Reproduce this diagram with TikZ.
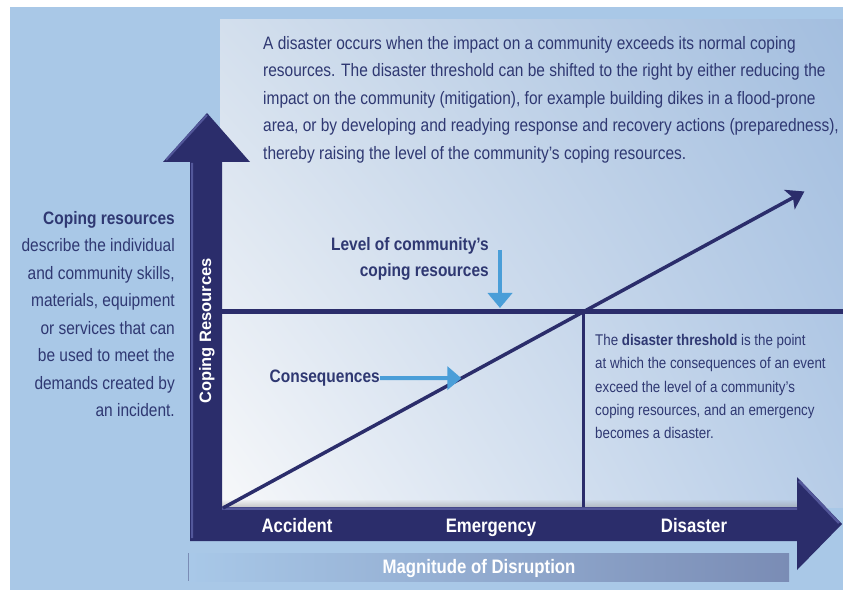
\documentclass[tikz,border=0pt]{standalone}
\usepackage{fontspec}
\setmainfont{Liberation Sans}[FakeStretch=0.86]
\newfontfamily\widesans{Liberation Sans}
\usetikzlibrary{arrows.meta, positioning, calc, fadings, shadings}

\definecolor{drNavy}{HTML}{2B2D6B}
\definecolor{drNavyLite}{HTML}{53579A}
\definecolor{drText}{HTML}{2F3872}
\definecolor{drSky}{HTML}{A9C8E7}
\definecolor{drBlue}{HTML}{4A9ED8}
\definecolor{drPanelUL}{HTML}{D3DFED}
\definecolor{drPanelUR}{HTML}{A3BEDF}
\definecolor{drPanelLL}{HTML}{F7F8FA}
\definecolor{drPanelLR}{HTML}{B6CCE7}
\definecolor{drScaleL}{HTML}{A8C8E8}
\definecolor{drScaleR}{HTML}{7A8CB5}

\tikzset{
  bodytext/.style={font=\fontsize{18}{27.5}\selectfont, text=drText, inner sep=0pt},
  notetext/.style={font=\fontsize{15.5}{23.3}\selectfont, text=drText, inner sep=0pt, align=left},
  tagtext/.style={font=\fontsize{18}{26}\selectfont\bfseries, text=drText, inner sep=0pt},
  barlabel/.style={font=\fontsize{19.5}{20}\selectfont\bfseries, text=white, inner sep=0pt},
  pointer/.style={-{Triangle[width=24pt,length=15pt]}, line width=4pt, drBlue},
  levelline/.style={line width=5pt, drNavy},
  threshline/.style={line width=3pt, drNavy},
  trend/.style={-{Stealth[width=22pt,length=17pt,inset=4pt]}, line width=3.5pt, drNavy}
}

\begin{document}
\begin{tikzpicture}[x=1pt, y=-1pt]
  \useasboundingbox (0,0) rectangle (843,593);
  \fill[white] (0,0) rectangle (843,593);
  % background and the lighter chart panel
  \fill[drSky] (10,7) rectangle (843,590);
  \shade[upper left=drPanelUL, upper right=drPanelUR, lower left=drPanelLL, lower right=drPanelLR]
    (220,20) rectangle (843,507);
  \fill[black!45, opacity=0.5, path fading=north] (222,499) rectangle (797,508);

  % key points of the chart
  \coordinate (O) at (223,508);
  \coordinate (thr) at (583,312);
  \coordinate (trendtip) at ($(O)!1.615!(thr)$);
  \coordinate (lvlL) at (222,312);
  \coordinate (lvlR) at (843,312);
  \coordinate (thrfoot) at (583,507);

  % magnitude scale under the axis
  \shade[left color=drScaleL, right color=drScaleR] (190,553) rectangle (789,581);
  \draw[drScaleR, line width=1pt] (188,553) -- (188,581);
  \node[barlabel, anchor=base] (magn) at (479,573) {Magnitude of Disruption};

  % the two axes as one L-shaped arrow
  \fill[drNavy] (190,541) -- (190,162) -- (163,162) -- (207,113) -- (250,162) -- (222,162)
    -- (222,507) -- (797,507) -- (797,477) -- (842,524) -- (797,570) -- (797,541) -- cycle;
  \draw[drNavyLite, line width=2pt] (192,538) -- (192,163) (166,160) -- (207,115);
  \draw[drNavyLite, line width=2.5pt] (222,508.5) -- (797,508.5) (799,481) -- (839,523);

  \node[barlabel, anchor=base] (acc) at (297,532) {Accident};
  \node[barlabel, anchor=base] (emg) at (491,532) {Emergency};
  \node[barlabel, anchor=base] (dis) at (694,532) {Disaster};
  \node[font=\widesans\fontsize{16.5}{17}\selectfont\bfseries, text=white, rotate=90, inner sep=0pt]
    (yname) at (207,331) {Coping Resources};

  % level of coping resources, threshold and consequences
  \draw[levelline] (lvlL) -- (lvlR);
  \draw[threshline] (thr) -- (thrfoot);
  \draw[trend] (O) -- (trendtip);

  \node[tagtext, align=right, anchor=north east] (level) at (489,237)
    {Level of community's\\coping resources};
  \coordinate (lvltop) at (500,250);
  \coordinate (lvltip) at (500,308);
  \draw[pointer] (lvltop) -- (lvltip);

  \coordinate (hit) at ($(O)!0.41!(trendtip)$);
  \node[tagtext, anchor=east] (conseq) at (380,378) {Consequences};
  \draw[pointer, -{Triangle[width=23pt,length=14pt]}] (conseq.east) -- (hit);

  % explanatory texts
  \node[bodytext, align=left, anchor=north west] (intro) at (263,36)
    {A disaster occurs when the impact on a community exceeds its normal coping\\
     resources. The disaster threshold can be shifted to the right by either reducing the\\
     impact on the community (mitigation), for example building dikes in a flood-prone\\
     area, or by developing and readying response and recovery actions (preparedness),\\
     thereby raising the level of the community's coping resources.};
  \node[bodytext, align=right, anchor=north east] (coping) at (175,211)
    {\textbf{Coping resources}\\ describe the individual\\ and community skills,\\
     materials, equipment\\ or services that can\\ be used to meet the\\
     demands created by\\ an incident.};
  \node[notetext, anchor=north west] (thrnote) at (595,334)
    {The \textbf{disaster threshold} is the point\\ at which the consequences of an event\\
     exceed the level of a community's\\ coping resources, and an emergency\\
     becomes a disaster.};
\end{tikzpicture}
\end{document}
